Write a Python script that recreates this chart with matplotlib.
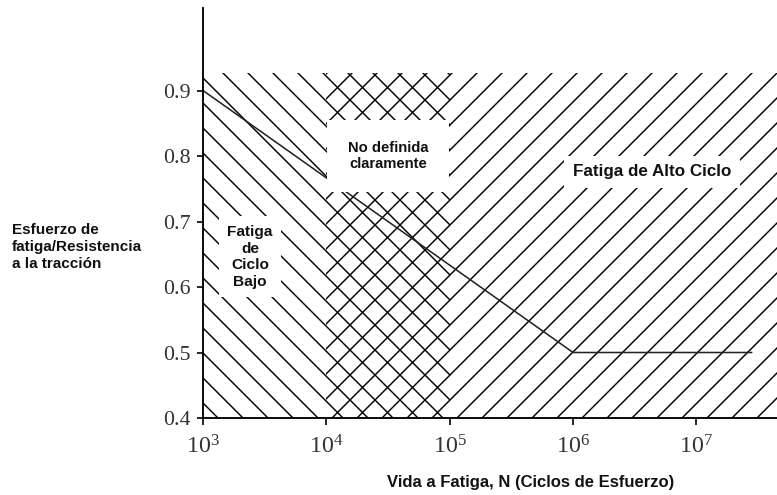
import matplotlib
matplotlib.use('Agg')
import matplotlib.pyplot as plt

# S-N curve (cycles -> stress ratio)
sn_cycles = [1e3, 1e6, 2.8e7]
sn_ratio = [0.9, 0.5, 0.5]

# hatched regions: (start, end) in cycles
low_cycle = (1e3, 1e5)
high_cycle = (1e4, 4.5e7)
region_top = 0.927

yticks = [0.4, 0.5, 0.6, 0.7, 0.8, 0.9]
ytick_labels = ['0.4', '0.5', '0.6', '0.7', '0.8', '0.9']
xticks = [1e3, 1e4, 1e5, 1e6, 1e7]

plt.rcParams['hatch.linewidth'] = 0.7
plt.rcParams['mathtext.fontset'] = 'stix'
plt.rcParams['font.family'] = 'Liberation Serif'

fig = plt.figure(figsize=(777 / 150, 495 / 150), dpi=150)
ax = fig.add_axes([203 / 777, 77 / 495, 1 - 203 / 777, (418 - 8) / 495])

ax.set_xscale('log')
ax.set_xlim(1e3, 4.5e7)
ax.set_ylim(0.4, 1.026)

#regions
ax.fill_between(low_cycle, 0.4, region_top, facecolor='none', edgecolor='black',
                hatch='\\\\', linewidth=0)
ax.fill_between(high_cycle, 0.4, region_top, facecolor='none', edgecolor='black',
                hatch='//', linewidth=0)

#S-N line
ax.plot(sn_cycles, sn_ratio, color='#222222', linewidth=0.75)

ax.set_xticks(xticks)
ax.set_yticks(yticks)
ax.set_yticklabels(ytick_labels)
ax.minorticks_off()
ax.tick_params(axis='y', direction='out', length=3, width=0.8, labelsize=10.5,
               labelcolor='#333333', pad=3)
ax.tick_params(axis='x', direction='out', length=3.5, width=0.8, labelsize=11.5,
               labelcolor='#333333', pad=5)

for s in ['top', 'right']:
    ax.spines[s].set_visible(False)
for s in ['left', 'bottom']:
    ax.spines[s].set_linewidth(0.9)

sans = dict(fontfamily='Liberation Sans', fontweight='bold', color='#111111',
            ha='center', va='center', linespacing=1.25)

ax.text(10 ** 4.5, 0.80, 'No definida\nclaramente', fontsize=7.1,
        bbox=dict(facecolor='white', edgecolor='none', pad=10), **sans)
ax.text(10 ** 6.64, 0.776, 'Fatiga de Alto Ciclo', fontsize=8.2,
        bbox=dict(facecolor='white', edgecolor='none', pad=4), **sans)
ax.text(10 ** 3.38, 0.646, 'Fatiga\nde\nCiclo\nBajo', fontsize=7.4,
        bbox=dict(facecolor='white', edgecolor='none', pad=4), **sans)

fig.text(12 / 777, 1 - 247 / 495, 'Esfuerzo de\nfatiga/Resistencia\na la tracción',
         fontfamily='Liberation Sans', fontweight='bold', fontsize=7.3,
         color='#111111', ha='left', va='center', linespacing=1.3)
fig.text(531 / 777, 1 - 483 / 495, 'Vida a Fatiga, N (Ciclos de Esfuerzo)',
         fontfamily='Liberation Sans', fontweight='bold', fontsize=8.0,
         color='#111111', ha='center', va='center')

fig.savefig('out.png', dpi=150)
